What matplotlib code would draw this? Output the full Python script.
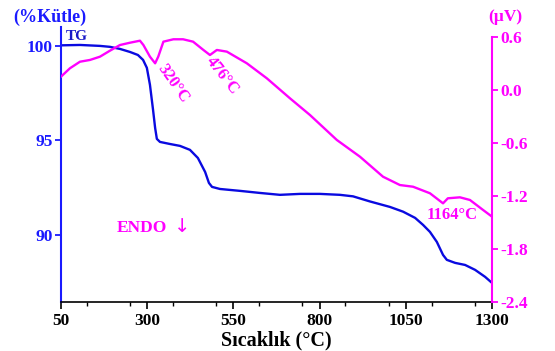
import matplotlib
matplotlib.use("Agg")
import matplotlib.pyplot as plt
from matplotlib.ticker import MultipleLocator

# TG data (temperature °C, mass %)
tg_temp = [50, 105, 163, 192, 221, 250, 273, 288, 299, 308, 317, 323, 328, 337, 366, 395, 424, 447,
           468, 479, 488, 511, 569, 627, 685, 743, 801, 859, 897, 946, 1004, 1042, 1077, 1100, 1120,
           1140, 1158, 1169, 1193, 1222, 1251, 1280, 1300]
tg_mass = [100.03, 100.05, 100.0, 99.95, 99.84, 99.68, 99.52, 99.26, 98.84, 97.94, 96.61, 95.66, 95.08,
           94.92, 94.81, 94.71, 94.50, 94.07, 93.33, 92.75, 92.54, 92.43, 92.33, 92.22, 92.12, 92.17,
           92.17, 92.12, 92.04, 91.77, 91.48, 91.23, 90.90, 90.53, 90.16, 89.63, 88.94, 88.68, 88.52,
           88.41, 88.15, 87.78, 87.46]

# DTA data (temperature °C, µV)
dta_temp = [50, 76, 105, 134, 163, 192, 221, 250, 279, 289, 308, 323, 332, 347, 376, 404, 433, 463,
            482, 502, 531, 589, 647, 714, 772, 850, 917, 984, 1033, 1071, 1120, 1158, 1172, 1207,
            1236, 1274, 1300]
dta_uv = [0.151, 0.246, 0.320, 0.340, 0.377, 0.445, 0.509, 0.535, 0.558, 0.509, 0.377, 0.302, 0.377,
          0.547, 0.574, 0.574, 0.547, 0.453, 0.396, 0.453, 0.434, 0.302, 0.132, -0.094, -0.283,
          -0.566, -0.755, -0.982, -1.076, -1.095, -1.169, -1.283, -1.226, -1.215, -1.245, -1.358,
          -1.434]

x_ticks = [50, 300, 550, 800, 1050, 1300]
left_ticks = [90, 95, 100]
right_ticks = [0.6, 0.0, -0.6, -1.2, -1.8, -2.4]

BLUE = "#1a1aff"
TGC = "#0a0ae0"
MAG = "#ff00ff"
FONT = "Liberation Serif"

W, H = 555, 351
fig = plt.figure(figsize=(W / 100, H / 100), dpi=100)
ax = fig.add_axes([61 / W, 1 - 302 / H, (492 - 61) / W, (302 - 27) / H])
ax2 = ax.twinx()

ax.plot(tg_temp, tg_mass, color=TGC, lw=1.7)
ax2.plot(dta_temp, dta_uv, color=MAG, lw=1.7)

ax.set_xlim(50, 1300)
ax.set_ylim(86.45, 101.0)
ax2.set_ylim(-2.4, 0.713)

ax.set_xticks(x_ticks)
ax.xaxis.set_minor_locator(MultipleLocator(125))
ax.set_yticks(left_ticks)
ax2.set_yticks(right_ticks)
ax2.set_yticklabels([f"{v:.1f}" for v in right_ticks])

for a in (ax, ax2):
    a.spines["top"].set_visible(False)
ax.spines["right"].set_visible(False)
ax2.spines["left"].set_visible(False)
ax2.spines["bottom"].set_visible(False)
ax.spines["left"].set_color(BLUE)
ax.spines["left"].set_linewidth(1.5)
ax.spines["bottom"].set_linewidth(1.2)
ax2.spines["right"].set_color(MAG)
ax2.spines["right"].set_linewidth(1.5)
ax2.spines["right"].set_bounds(-2.4, 0.6)

ax.tick_params(axis="x", direction="out", length=5, width=1.2, colors="black", pad=3)
ax.tick_params(axis="x", which="minor", direction="out", length=3, width=1.0)
ax.tick_params(axis="y", direction="out", length=4, width=1.3, colors=BLUE, pad=2)
ax2.tick_params(axis="y", direction="out", length=4, width=1.3, colors=MAG, pad=2)
for lab in ax.get_xticklabels() + ax.get_yticklabels() + ax2.get_yticklabels():
    lab.set_fontfamily(FONT)
    lab.set_fontweight("bold")
    lab.set_fontsize(12.5)

ax.set_xlabel("Sıcaklık (°C)", fontfamily=FONT, fontweight="bold", fontsize=14.5, labelpad=1)


def ftext(x, y, s, **kw):
    fig.text(x / W, 1 - y / H, s, ha="center", va="center", fontfamily=FONT, fontweight="bold", **kw)


ftext(50, 17, "(%Kütle)", color=BLUE, fontsize=13)
ftext(505, 17, "(µV)", color=MAG, fontsize=12.5)
ftext(77, 37, "TG", color="#1818c8", fontsize=11)
ftext(142, 228, "ENDO", color=MAG, fontsize=12.5)
fig.text(182 / W, 1 - 226 / H, "↓", ha="center", va="center", color=MAG, fontsize=14,
         fontfamily="DejaVu Sans")
ftext(452, 215, "1164°C", color=MAG, fontsize=12)
ftext(173, 84, "320°C", color=MAG, fontsize=12, rotation=-55)
ftext(222, 76, "476°C", color=MAG, fontsize=12, rotation=-52)

fig.savefig("out.png", dpi=100)
